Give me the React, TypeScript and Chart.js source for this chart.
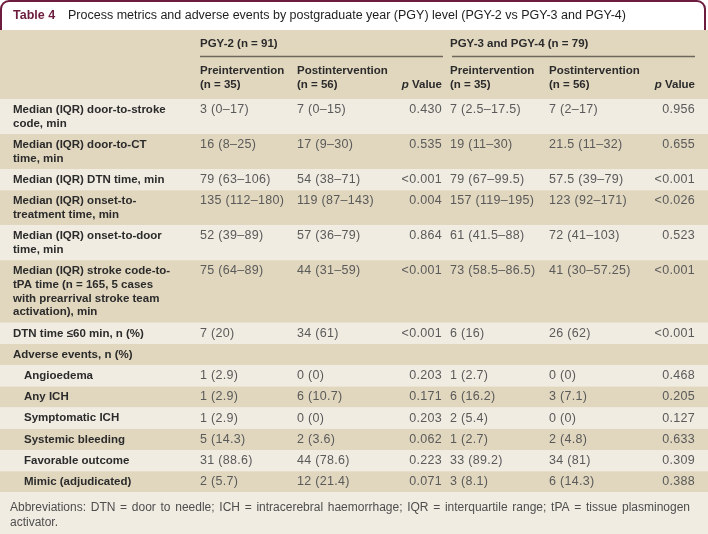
import React, { useEffect, useRef } from "react";
import { Chart, registerables } from "chart.js";
Chart.register(...registerables);

const tableNumber = "Table 4";
const tableTitle =
  "Process metrics and adverse events by postgraduate year (PGY) level (PGY-2 vs PGY-3 and PGY-4)";
const groupHeaders = ["PGY-2 (n = 91)", "PGY-3 and PGY-4 (n = 79)"];
const subHeaderPre = ["Preintervention", "(n = 35)"];
const subHeaderPost = ["Postintervention", "(n = 56)"];
const pValueHeader = "Value";

const rowLabels: string[][] = [
  ["Median (IQR) door-to-stroke", "code, min"],
  ["Median (IQR) door-to-CT", "time, min"],
  ["Median (IQR) DTN time, min"],
  ["Median (IQR) onset-to-", "treatment time, min"],
  ["Median (IQR) onset-to-door", "time, min"],
  ["Median (IQR) stroke code-to-", "tPA time (n = 165, 5 cases", "with prearrival stroke team", "activation), min"],
  ["DTN time \u226460 min, n (%)"],
  ["Adverse events, n (%)"],
  ["Angioedema"],
  ["Any ICH"],
  ["Symptomatic ICH"],
  ["Systemic bleeding"],
  ["Favorable outcome"],
  ["Mimic (adjudicated)"],
];
const rowIndented = [false, false, false, false, false, false, false, false, true, true, true, true, true, true];

const pgy2Pre = ["3 (0\u201317)", "16 (8\u201325)", "79 (63\u2013106)", "135 (112\u2013180)", "52 (39\u201389)", "75 (64\u201389)", "7 (20)", "", "1 (2.9)", "1 (2.9)", "1 (2.9)", "5 (14.3)", "31 (88.6)", "2 (5.7)"];
const pgy2Post = ["7 (0\u201315)", "17 (9\u201330)", "54 (38\u201371)", "119 (87\u2013143)", "57 (36\u201379)", "44 (31\u201359)", "34 (61)", "", "0 (0)", "6 (10.7)", "0 (0)", "2 (3.6)", "44 (78.6)", "12 (21.4)"];
const pgy2P = ["0.430", "0.535", "<0.001", "0.004", "0.864", "<0.001", "<0.001", "", "0.203", "0.171", "0.203", "0.062", "0.223", "0.071"];
const pgy34Pre = ["7 (2.5\u201317.5)", "19 (11\u201330)", "79 (67\u201399.5)", "157 (119\u2013195)", "61 (41.5\u201388)", "73 (58.5\u201386.5)", "6 (16)", "", "1 (2.7)", "6 (16.2)", "2 (5.4)", "1 (2.7)", "33 (89.2)", "3 (8.1)"];
const pgy34Post = ["7 (2\u201317)", "21.5 (11\u201332)", "57.5 (39\u201379)", "123 (92\u2013171)", "72 (41\u2013103)", "41 (30\u201357.25)", "26 (62)", "", "0 (0)", "3 (7.1)", "0 (0)", "2 (4.8)", "34 (81)", "6 (14.3)"];
const pgy34P = ["0.956", "0.655", "<0.001", "<0.026", "0.523", "<0.001", "<0.001", "", "0.468", "0.205", "0.127", "0.633", "0.309", "0.388"];

const footnote =
  "Abbreviations: DTN = door to needle; ICH = intracerebral haemorrhage; IQR = interquartile range; tPA = tissue plasminogen activator.";

const W = 708;
const H = 534;
const C = {
  maroon: "#6c1d3e",
  tan: "#e1d7bf",
  light: "#f0ece2",
  head: "#2b2b2b",
  val: "#5a5a5a",
  rule: "#6e675b",
};
const FONT = '"Liberation Sans", Arial, sans-serif';
const NARROW = '"Liberation Sans Narrow", "Liberation Sans", Arial, sans-serif';

const COL = { label: 13, indent: 24, pre1: 200, post1: 297, p1: 442, pre2: 450, post2: 549, p2: 695 };
const LAYOUT = { titleH: 30, headBottom: 99, single: 21.2, lineH: 13.8, footTop: 492 };

function drawJustified(ctx: CanvasRenderingContext2D, text: string, x: number, y: number, maxW: number, lineH: number) {
  const words = text.split(" ");
  const lines: string[][] = [];
  let cur: string[] = [];
  for (const w of words) {
    const test = [...cur, w].join(" ");
    if (ctx.measureText(test).width > maxW && cur.length) {
      lines.push(cur);
      cur = [w];
    } else cur.push(w);
  }
  if (cur.length) lines.push(cur);
  lines.forEach((ln, i) => {
    const yy = y + i * lineH;
    if (i < lines.length - 1 && ln.length > 1) {
      const wsum = ln.reduce((s, w) => s + ctx.measureText(w).width, 0);
      const gap = (maxW - wsum) / (ln.length - 1);
      let xx = x;
      ln.forEach((w) => {
        ctx.fillText(w, xx, yy);
        xx += ctx.measureText(w).width + gap;
      });
    } else {
      ctx.fillText(ln.join(" "), x, yy);
    }
  });
}

const tablePlugin = {
  id: "tableDraw",
  afterDraw(chart: any) {
    const ctx: any = chart.ctx;
    ctx.save();
    // title box
    ctx.fillStyle = "#ffffff";
    ctx.fillRect(0, 0, W, LAYOUT.titleH);
    ctx.strokeStyle = C.maroon;
    ctx.lineWidth = 2;
    const r = 8;
    ctx.beginPath();
    ctx.moveTo(1, LAYOUT.titleH);
    ctx.lineTo(1, 1 + r);
    ctx.arcTo(1, 1, 1 + r, 1, r);
    ctx.lineTo(705 - r, 1);
    ctx.arcTo(705, 1, 705, 1 + r, r);
    ctx.lineTo(705, LAYOUT.titleH);
    ctx.stroke();
    ctx.textBaseline = "middle";
    ctx.textAlign = "left";
    ctx.font = `bold 12.5px ${FONT}`;
    ctx.fillStyle = C.maroon;
    ctx.fillText(tableNumber, 13, 16);
    ctx.font = `12.5px ${FONT}`;
    ctx.fillStyle = "#1e1e1e";
    ctx.fillText(tableTitle, 68, 16, 559);

    // header band
    ctx.fillStyle = C.tan;
    ctx.fillRect(0, LAYOUT.titleH, W, LAYOUT.headBottom - LAYOUT.titleH);
    ctx.fillStyle = C.head;
    ctx.font = `bold 11.5px ${FONT}`;
    ctx.fillText(groupHeaders[0], COL.pre1, 44);
    ctx.fillText(groupHeaders[1], COL.pre2, 44);
    ctx.strokeStyle = C.rule;
    ctx.lineWidth = 1.4;
    ctx.beginPath();
    ctx.moveTo(COL.pre1, 56.5);
    ctx.lineTo(COL.p1 + 1, 56.5);
    ctx.moveTo(COL.pre2 + 2, 56.5);
    ctx.lineTo(COL.p2, 56.5);
    ctx.stroke();
    [COL.pre1, COL.pre2].forEach((x) => {
      ctx.fillText(subHeaderPre[0], x, 71);
      ctx.fillText(subHeaderPre[1], x, 85);
    });
    [COL.post1, COL.post2].forEach((x) => {
      ctx.fillText(subHeaderPost[0], x, 71);
      ctx.fillText(subHeaderPost[1], x, 85);
    });
    [COL.p1, COL.p2].forEach((x) => {
      ctx.textAlign = "right";
      ctx.font = `bold 11.5px ${FONT}`;
      const vw = ctx.measureText(" " + pValueHeader).width;
      ctx.fillText(" " + pValueHeader, x, 85);
      ctx.font = `bold italic 11.5px ${FONT}`;
      ctx.fillText("p", x - vw, 85);
      ctx.textAlign = "left";
    });

    // rows
    let top = LAYOUT.headBottom;
    rowLabels.forEach((lines, i) => {
      const h = LAYOUT.single + LAYOUT.lineH * (lines.length - 1);
      ctx.fillStyle = i % 2 === 0 ? C.light : C.tan;
      ctx.fillRect(0, top, W, h);
      const y0 = top + LAYOUT.single / 2;
      ctx.fillStyle = C.head;
      ctx.font = `bold 11.5px ${FONT}`;
      ctx.textAlign = "left";
      ctx.letterSpacing = "0px";
      lines.forEach((t, k) => ctx.fillText(t, rowIndented[i] ? COL.indent : COL.label, y0 + k * LAYOUT.lineH));
      ctx.fillStyle = C.val;
      ctx.font = `12.5px ${FONT}`;
      ctx.letterSpacing = "0.3px";
      ctx.fillText(pgy2Pre[i], COL.pre1, y0);
      ctx.fillText(pgy2Post[i], COL.post1, y0);
      ctx.fillText(pgy34Pre[i], COL.pre2, y0);
      ctx.fillText(pgy34Post[i], COL.post2, y0);
      ctx.textAlign = "right";
      ctx.fillText(pgy2P[i], COL.p1, y0);
      ctx.fillText(pgy34P[i], COL.p2, y0);
      ctx.letterSpacing = "0px";
      top += h;
    });

    // footer
    ctx.fillStyle = C.light;
    ctx.fillRect(0, top, W, H - top);
    ctx.fillStyle = "#4e4e4e";
    ctx.textAlign = "left";
    ctx.font = `12px ${NARROW}`;
    drawJustified(ctx, footnote, 10, top + 15, 680, 15.5);
    ctx.restore();
  },
};

export default function App() {
  const ref = useRef<HTMLCanvasElement>(null);
  useEffect(() => {
    document.body.style.margin = "0";
    if (!ref.current) return;
    const chart = new Chart(ref.current, {
      type: "bar",
      data: { labels: [], datasets: [] },
      options: {
        responsive: false,
        animation: false,
        layout: { padding: 0 },
        plugins: { legend: { display: false }, tooltip: { enabled: false }, title: { display: false } },
        scales: { x: { display: false }, y: { display: false } },
      },
      plugins: [tablePlugin],
    });
    return () => chart.destroy();
  }, []);
  return (
    <div style={{ position: "absolute", left: 0, top: 0, width: W, height: H, background: "#ffffff" }}>
      <canvas ref={ref} width={W} height={H} style={{ display: "block", width: W, height: H }} />
    </div>
  );
}
